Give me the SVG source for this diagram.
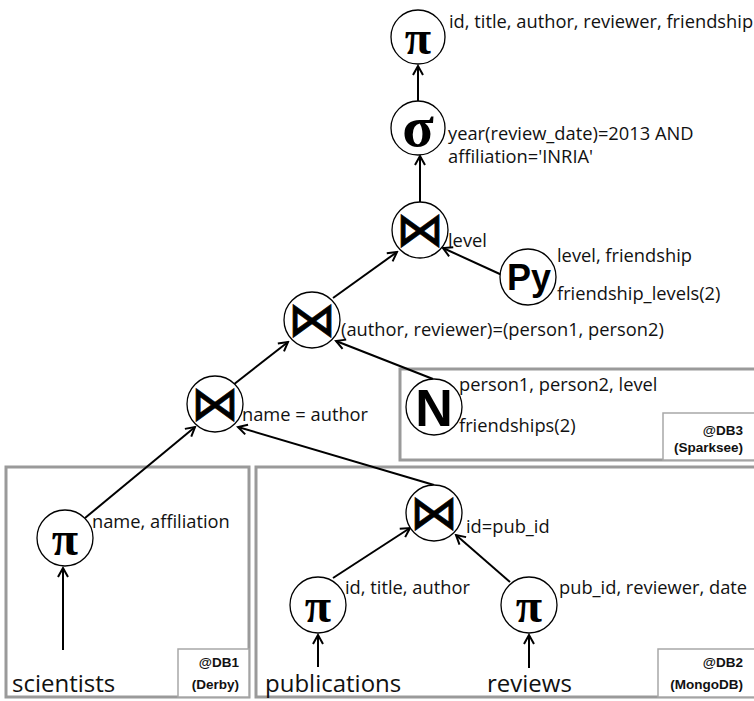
<svg xmlns="http://www.w3.org/2000/svg" width="754" height="701" viewBox="0 0 754 701">
<defs>
<marker id="arr" markerUnits="userSpaceOnUse" markerWidth="14" markerHeight="14" viewBox="-12 -7 14 14" refX="0" refY="0" orient="auto">
<path d="M-9,-5 L0,0 L-9,5" fill="none" stroke="#000" stroke-width="2"/>
</marker>
</defs>
<style>
.bg{fill:#fff}
.site{fill:none;stroke:#9a9a9a;stroke-width:3}
.tag{fill:#fff;stroke:#a8a8a8;stroke-width:1.5}
.tagt{font-family:"Liberation Sans",Arial,sans-serif;font-weight:bold;font-size:13.5px;fill:#111;text-anchor:end}
.op{fill:#fff;stroke:#000;stroke-width:1.3}
.lbl{font-family:"Open Sans","DejaVu Sans",sans-serif;font-size:18.3px;fill:#111}
.src{font-family:"Open Sans","DejaVu Sans",sans-serif;font-size:24px;fill:#111}
.pi{font-family:"Liberation Serif","DejaVu Serif",serif;font-weight:bold;font-size:48px;text-anchor:middle;fill:#000}
.sig{font-family:"Liberation Serif","DejaVu Serif",serif;font-weight:bold;font-size:58px;text-anchor:middle;fill:#000}
.bow{font-family:"DejaVu Sans",sans-serif;font-size:48px;text-anchor:middle;fill:#000;stroke:#000;stroke-width:0.8;stroke-linejoin:miter}
.sans{font-family:"Liberation Sans",Arial,sans-serif;font-weight:bold;text-anchor:middle;fill:#000}
.conn line{stroke:#000;stroke-width:2;marker-end:url(#arr)}
</style>
<rect class="bg" x="0" y="0" width="754" height="701"/>

<g id="site-db3">
<rect class="site" x="400" y="369" width="360" height="91"/>
<rect class="tag" x="663" y="413" width="95" height="47"/>
<text class="tagt" x="743" y="435">@DB3</text>
<text class="tagt" x="743" y="452">(Sparksee)</text>
</g>
<g id="site-db1">
<rect class="site" x="6" y="467" width="243" height="230"/>
<rect class="tag" x="178" y="649" width="71" height="48"/>
<text class="tagt" x="239" y="667">@DB1</text>
<text class="tagt" x="239" y="689">(Derby)</text>
</g>
<g id="site-db2">
<rect class="site" x="256" y="467" width="504" height="230"/>
<rect class="tag" x="658" y="649" width="100" height="48"/>
<text class="tagt" x="743" y="667">@DB2</text>
<text class="tagt" x="743" y="689">(MongoDB)</text>
</g>

<g class="conn" id="connectors">
<line x1="418" y1="101" x2="418" y2="66"/>
<line x1="420" y1="202" x2="420" y2="156"/>
<line x1="502" y1="275" x2="443" y2="248"/>
<line x1="333" y1="298" x2="397" y2="252"/>
<line x1="433" y1="379" x2="336" y2="341"/>
<line x1="233" y1="385" x2="288" y2="342"/>
<line x1="85" y1="518" x2="195" y2="427"/>
<line x1="434" y1="485" x2="238" y2="427"/>
<line x1="333" y1="578" x2="410" y2="528"/>
<line x1="510" y1="582" x2="456" y2="535"/>
<line x1="63" y1="650" x2="63" y2="568"/>
<line x1="318" y1="667" x2="318" y2="635"/>
<line x1="529" y1="668" x2="529" y2="635"/>
</g>

<g id="n-project-top">
<circle class="op" cx="418" cy="37" r="27"/>
<text class="pi" x="418" y="54">π</text>
<text class="lbl" x="449" y="28">id, title, author, reviewer, friendship</text>
</g>
<g id="n-select">
<circle class="op" cx="418" cy="128" r="27"/>
<text class="sig" x="418" y="146">σ</text>
<text class="lbl" x="448" y="140">year(review_date)=2013 AND</text>
<text class="lbl" x="448" y="163">affiliation='INRIA'</text>
</g>
<g id="n-join-level">
<circle class="op" cx="420" cy="230" r="28"/>
<text class="bow" x="420" y="246">⋈</text>
<text class="lbl" x="448" y="247">level</text>
</g>
<g id="n-python">
<circle class="op" cx="528" cy="277" r="28"/>
<text class="sans" x="529" y="290" font-size="36">Py</text>
<text class="lbl" x="557" y="262">level, friendship</text>
<text class="lbl" x="557" y="300">friendship_levels(2)</text>
</g>
<g id="n-join-persons">
<circle class="op" cx="312" cy="320" r="28"/>
<text class="bow" x="312" y="336">⋈</text>
<text class="lbl" x="341" y="336">(author, reviewer)=(person1, person2)</text>
</g>
<g id="n-neo4j">
<circle class="op" cx="434" cy="407" r="28"/>
<text class="sans" x="434" y="426" font-size="52">N</text>
<text class="lbl" x="459" y="391">person1, person2, level</text>
<text class="lbl" x="459" y="432">friendships(2)</text>
</g>
<g id="n-join-name">
<circle class="op" cx="215" cy="404" r="28"/>
<text class="bow" x="215" y="420">⋈</text>
<text class="lbl" x="242" y="421">name = author</text>
</g>
<g id="n-project-sci">
<circle class="op" cx="65" cy="538" r="28"/>
<text class="pi" x="65" y="555">π</text>
<text class="lbl" x="92" y="528">name, affiliation</text>
</g>
<g id="n-join-pub">
<circle class="op" cx="434" cy="513" r="28"/>
<text class="bow" x="434" y="529">⋈</text>
<text class="lbl" x="466" y="533">id=pub_id</text>
</g>
<g id="n-project-pub">
<circle class="op" cx="318" cy="605" r="28"/>
<text class="pi" x="318" y="622">π</text>
<text class="lbl" x="345" y="594">id, title, author</text>
</g>
<g id="n-project-rev">
<circle class="op" cx="529" cy="605" r="28"/>
<text class="pi" x="529" y="622">π</text>
<text class="lbl" x="559" y="594">pub_id, reviewer, date</text>
</g>
<g id="n-scientists"><text class="src" x="12" y="692">scientists</text></g>
<g id="n-publications"><text class="src" x="265" y="692">publications</text></g>
<g id="n-reviews"><text class="src" x="487" y="692">reviews</text></g>
</svg>
